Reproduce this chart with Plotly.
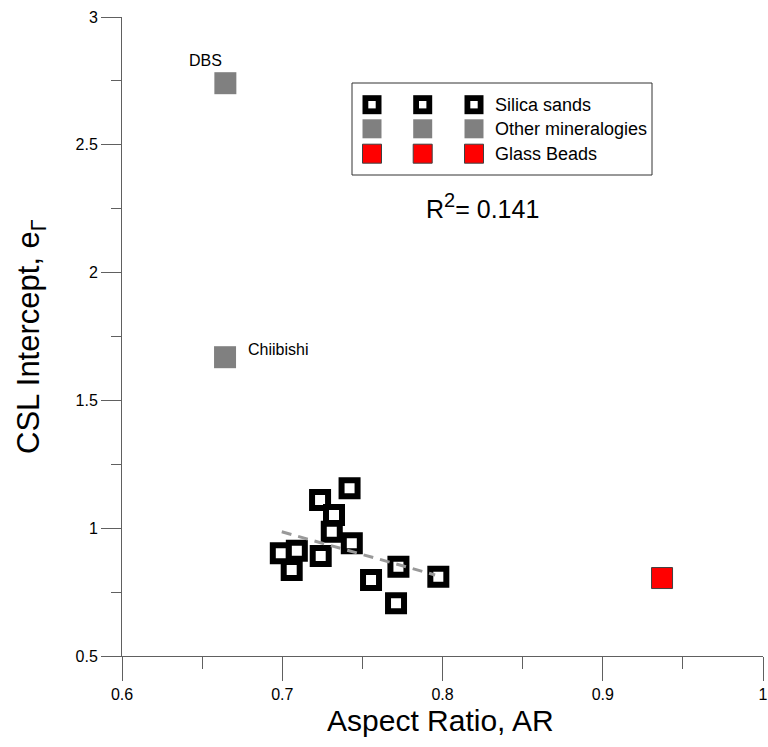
import plotly.graph_objects as go

# ---- data ----
silica_ar = [0.742, 0.7236, 0.7323, 0.7309, 0.7434, 0.7240, 0.6991, 0.7091, 0.7059, 0.7554, 0.7725, 0.7974, 0.771]
silica_e = [1.156, 1.110, 1.052, 0.986, 0.941, 0.891, 0.902, 0.912, 0.836, 0.797, 0.849, 0.810, 0.706]
other_ar = [0.6645, 0.6643]
other_e = [2.741, 1.669]
other_names = ["DBS", "Chiibishi"]
glass_ar = [0.937]
glass_e = [0.805]
trend_ar = [0.6997, 0.7954]
trend_e = [0.986, 0.817]
legend_labels = ["Silica sands", "Other mineralogies", "Glass Beads"]
r2_text = "R<sup><span style='font-size:20px'>2</span></sup>= 0.141"
x_title = "Aspect Ratio, AR"
y_title = "CSL Intercept, e<sub>Γ</sub>"

FONT = "Liberation Sans, Arial, sans-serif"

# plot-area geometry (pixels) for decoration placement
L, R, T, B = 122, 763, 17, 656
W, H = R - L, B - T

def px(x):
    return (x - L) / W

def py(y):
    return (B - y) / H

fig = go.Figure()

fig.add_trace(go.Scatter(
    x=silica_ar, y=silica_e, mode="markers", showlegend=False,
    marker=dict(symbol="square", size=16, color="white", line=dict(color="black", width=6)),
))
fig.add_trace(go.Scatter(
    x=trend_ar, y=trend_e, mode="lines", showlegend=False,
    line=dict(color="#999999", width=3, dash="10px,7px"),
))
fig.add_trace(go.Scatter(
    x=other_ar, y=other_e, mode="markers", showlegend=False,
    marker=dict(symbol="square", size=22, color="#808080", line=dict(width=0)),
))
fig.add_trace(go.Scatter(
    x=glass_ar, y=glass_e, mode="markers", showlegend=False,
    marker=dict(symbol="square", size=21, color="#ff0000", line=dict(color="#404040", width=1)),
))

annotations = []
# point labels
annotations.append(dict(x=other_ar[0], y=other_e[0], xref="x", yref="y", text=other_names[0],
                        showarrow=False, xanchor="center", yanchor="middle", xshift=-20, yshift=23,
                        font=dict(family=FONT, size=16, color="black")))
annotations.append(dict(x=other_ar[1], y=other_e[1], xref="x", yref="y", text=other_names[1],
                        showarrow=False, xanchor="left", yanchor="middle", xshift=21, yshift=8,
                        font=dict(family=FONT, size=16, color="black")))
# R^2
annotations.append(dict(x=px(424), y=py(206), xref="paper", yref="paper", text=r2_text,
                        showarrow=False, xanchor="left", yanchor="middle",
                        font=dict(family=FONT, size=25, color="black")))
# axis titles
annotations.append(dict(x=px(440), y=py(720), xref="paper", yref="paper", text=x_title,
                        showarrow=False, xanchor="center", yanchor="middle",
                        font=dict(family=FONT, size=30, color="black")))
annotations.append(dict(x=px(31), y=py(336), xref="paper", yref="paper", text=y_title,
                        showarrow=False, xanchor="center", yanchor="middle", textangle=-90,
                        font=dict(family=FONT, size=31, color="black")))

shapes = []
# legend box
shapes.append(dict(type="rect", xref="paper", yref="paper",
                   x0=px(352), x1=px(652), y0=py(175), y1=py(83),
                   line=dict(color="#333333", width=1), fillcolor="white", layer="below"))
cols = [372, 422.7, 474]
rows = [104.7, 128.8, 153.7]
half = 9.5
for r_i, yc in enumerate(rows):
    for xc in cols:
        if r_i == 0:
            shapes.append(dict(type="rect", xref="paper", yref="paper",
                               x0=px(xc - half), x1=px(xc + half), y0=py(yc + half), y1=py(yc - half),
                               line=dict(width=0), fillcolor="black"))
            shapes.append(dict(type="rect", xref="paper", yref="paper",
                               x0=px(xc - 3.7), x1=px(xc + 3.7), y0=py(yc + 3.7), y1=py(yc - 3.7),
                               line=dict(width=0), fillcolor="white"))
        elif r_i == 1:
            shapes.append(dict(type="rect", xref="paper", yref="paper",
                               x0=px(xc - half), x1=px(xc + half), y0=py(yc + half), y1=py(yc - half),
                               line=dict(width=0), fillcolor="#808080"))
        else:
            shapes.append(dict(type="rect", xref="paper", yref="paper",
                               x0=px(xc - half), x1=px(xc + half), y0=py(yc + half), y1=py(yc - half),
                               line=dict(width=1, color="#404040"), fillcolor="#ff0000"))
    annotations.append(dict(x=px(493), y=py(yc), xref="paper", yref="paper", text=legend_labels[r_i],
                            showarrow=False, xanchor="left", yanchor="middle",
                            font=dict(family=FONT, size=18, color="black")))

fig.update_layout(
    width=768, height=747,
    margin=dict(l=L, r=768 - R, t=T, b=747 - B, pad=0, autoexpand=False),
    plot_bgcolor="white", paper_bgcolor="white",
    font=dict(family=FONT, color="black"),
    shapes=shapes, annotations=annotations,
    showlegend=False,
)
fig.update_xaxes(
    range=[0.6, 1.0], dtick=0.1, tick0=0.6, showgrid=False, zeroline=False, automargin=False,
    showline=True, linecolor="#606060", linewidth=1,
    ticks="outside", ticklen=24, tickcolor="#606060", tickwidth=1,
    minor=dict(dtick=0.05, ticks="outside", ticklen=12, tickcolor="#606060", showgrid=False),
    tickfont=dict(family=FONT, size=16, color="black"),
)
fig.update_yaxes(
    range=[0.5, 3.0], dtick=0.5, tick0=0.5, showgrid=False, zeroline=False, automargin=False,
    showline=True, linecolor="#606060", linewidth=1,
    ticks="outside", ticklen=20, tickcolor="#606060", tickwidth=1,
    minor=dict(dtick=0.25, ticks="outside", ticklen=10, tickcolor="#606060", showgrid=False),
    tickfont=dict(family=FONT, size=16, color="black"),
)

fig.write_html("out.html")
